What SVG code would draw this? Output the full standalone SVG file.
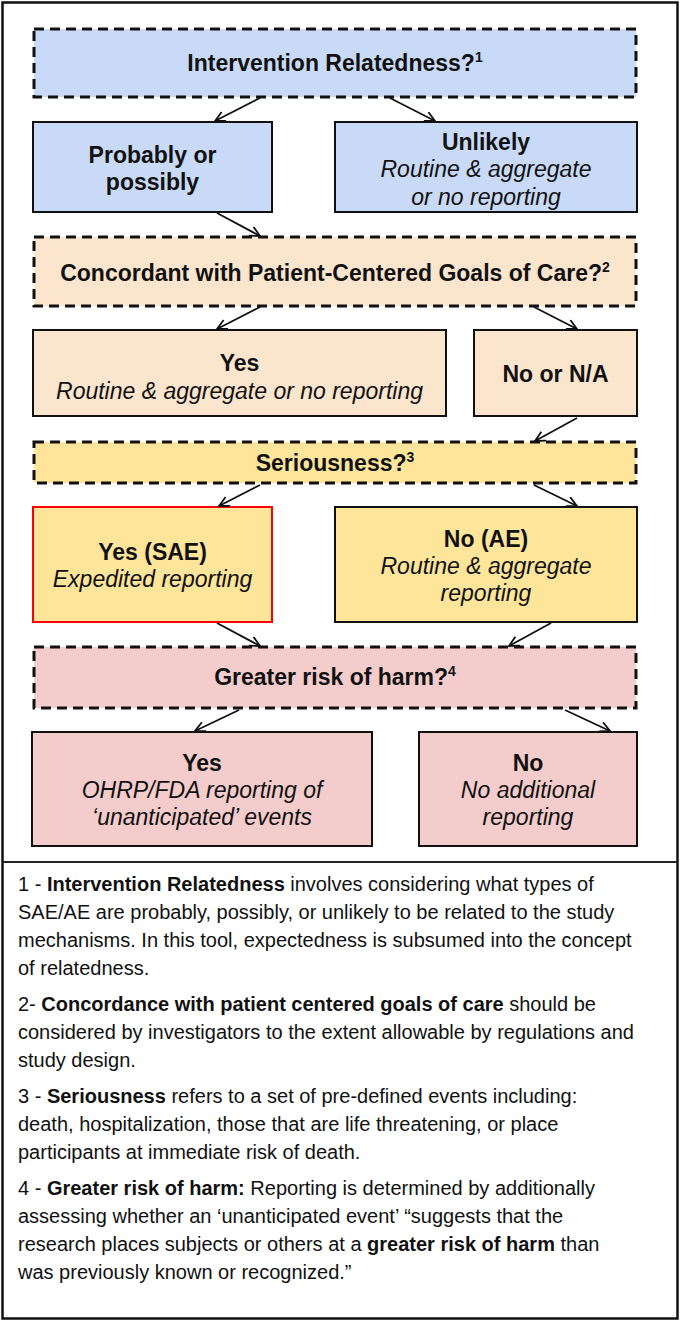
<svg xmlns="http://www.w3.org/2000/svg" width="680" height="1323" viewBox="0 0 680 1323">
<defs>
<style>
.q{stroke:#111;stroke-width:3;stroke-dasharray:10 6}
.s{stroke:#111;stroke-width:2}
.blue{fill:#c9daf8}.peach{fill:#fce5cd}.yel{fill:#ffe599}.pink{fill:#f4cccc}
.t{font-family:"Liberation Sans",Arial,sans-serif;font-size:23px;fill:#111;text-anchor:middle}
.b{font-weight:bold}.i{font-style:italic}
.sup{font-size:14px}
.fn{font-family:"Liberation Sans",Arial,sans-serif;font-size:20px;fill:#111}
.c{stroke:#111;stroke-width:1.8;fill:none;marker-end:url(#ah)}
</style>
<marker id="ah" markerWidth="13" markerHeight="13" refX="11" refY="5.5" orient="auto" markerUnits="userSpaceOnUse">
<path d="M1,0.5 L11,5.5 L1,10.5" fill="none" stroke="#111" stroke-width="1.8"/>
</marker>
</defs>
<rect x="2.5" y="2.5" width="675" height="1316" fill="#fff" stroke="#111" stroke-width="2.5"/>
<line x1="3" y1="862" x2="677" y2="862" stroke="#222" stroke-width="2"/>

<g id="n1"><rect class="q blue" x="34" y="29" width="602" height="68"/><text class="t b" x="335" y="71">Intervention Relatedness?<tspan class="sup" dy="-9">1</tspan></text></g>
<g id="n2"><rect class="s blue" x="33" y="122" width="239" height="90"/><text class="t b" x="152.5" y="163">Probably or</text><text class="t b" x="152.5" y="190">possibly</text></g>
<g id="n3"><rect class="s blue" x="335" y="122" width="302" height="90"/><text class="t b" x="486" y="150">Unlikely</text><text class="t i" x="486" y="177">Routine &amp; aggregate</text><text class="t i" x="486" y="204.5">or no reporting</text></g>

<g id="n4"><rect class="q peach" x="34" y="237" width="602" height="69"/><text class="t b" x="335" y="281">Concordant with Patient-Centered Goals of Care?<tspan class="sup" dy="-9">2</tspan></text></g>
<g id="n5"><rect class="s peach" x="33" y="330" width="413" height="86"/><text class="t b" x="239.5" y="371">Yes</text><text class="t i" x="239.5" y="399">Routine &amp; aggregate or no reporting</text></g>
<g id="n6"><rect class="s peach" x="474" y="330" width="163" height="86"/><text class="t b" x="555.5" y="382">No or N/A</text></g>

<g id="n7"><rect class="q yel" x="34" y="442" width="602" height="41"/><text class="t b" x="335" y="470.5">Seriousness?<tspan class="sup" dy="-9">3</tspan></text></g>
<g id="n8"><rect x="33" y="507" width="239" height="115" class="yel" stroke="#ff0000" stroke-width="2"/><text class="t b" x="152.5" y="560">Yes (SAE)</text><text class="t i" x="152.5" y="587">Expedited reporting</text></g>
<g id="n9"><rect class="s yel" x="335" y="507" width="302" height="115"/><text class="t b" x="486" y="547">No (AE)</text><text class="t i" x="486" y="574">Routine &amp; aggregate</text><text class="t i" x="486" y="601">reporting</text></g>

<g id="n10"><rect class="q pink" x="34" y="647" width="602" height="61"/><text class="t b" x="335" y="685">Greater risk of harm?<tspan class="sup" dy="-9">4</tspan></text></g>
<g id="n11"><rect class="s pink" x="32" y="732" width="340" height="114"/><text class="t b" x="202" y="771">Yes</text><text class="t i" x="202" y="798">OHRP/FDA reporting of</text><text class="t i" x="202" y="825">‘unanticipated’ events</text></g>
<g id="n12"><rect class="s pink" x="419" y="732" width="218" height="114"/><text class="t b" x="528" y="771">No</text><text class="t i" x="528" y="798">No additional</text><text class="t i" x="528" y="825">reporting</text></g>

<g id="connectors">
<line class="c" x1="260" y1="98" x2="215" y2="121"/>
<line class="c" x1="390" y1="98" x2="435" y2="121"/>
<line class="c" x1="217" y1="213" x2="260" y2="236"/>
<line class="c" x1="260" y1="307" x2="217" y2="329"/>
<line class="c" x1="534" y1="307" x2="577" y2="329"/>
<line class="c" x1="577" y1="418" x2="535" y2="441"/>
<line class="c" x1="260" y1="485" x2="219" y2="506"/>
<line class="c" x1="534" y1="485" x2="577" y2="506"/>
<line class="c" x1="217" y1="623" x2="260" y2="646"/>
<line class="c" x1="551" y1="623" x2="509" y2="646"/>
<line class="c" x1="239" y1="710" x2="195" y2="731"/>
<line class="c" x1="565" y1="710" x2="610" y2="731"/>
</g>

<g id="footnotes" class="fn">
<text x="18" y="891">1 - <tspan font-weight="bold">Intervention Relatedness</tspan> involves considering what types of</text>
<text x="18" y="919">SAE/AE are probably, possibly, or unlikely to be related to the study</text>
<text x="18" y="947">mechanisms. In this tool, expectedness is subsumed into the concept</text>
<text x="18" y="975">of relatedness.</text>
<text x="18" y="1011">2- <tspan font-weight="bold">Concordance with patient centered goals of care</tspan> should be</text>
<text x="18" y="1039">considered by investigators to the extent allowable by regulations and</text>
<text x="18" y="1067">study design.</text>
<text x="18" y="1103">3 - <tspan font-weight="bold">Seriousness</tspan> refers to a set of pre-defined events including:</text>
<text x="18" y="1131">death, hospitalization, those that are life threatening, or place</text>
<text x="18" y="1159">participants at immediate risk of death.</text>
<text x="18" y="1195">4 - <tspan font-weight="bold">Greater risk of harm:</tspan> Reporting is determined by additionally</text>
<text x="18" y="1223">assessing whether an ‘unanticipated event’ “suggests that the</text>
<text x="18" y="1251">research places subjects or others at a <tspan font-weight="bold">greater risk of harm</tspan> than</text>
<text x="18" y="1279">was previously known or recognized.”</text>
</g>
</svg>
